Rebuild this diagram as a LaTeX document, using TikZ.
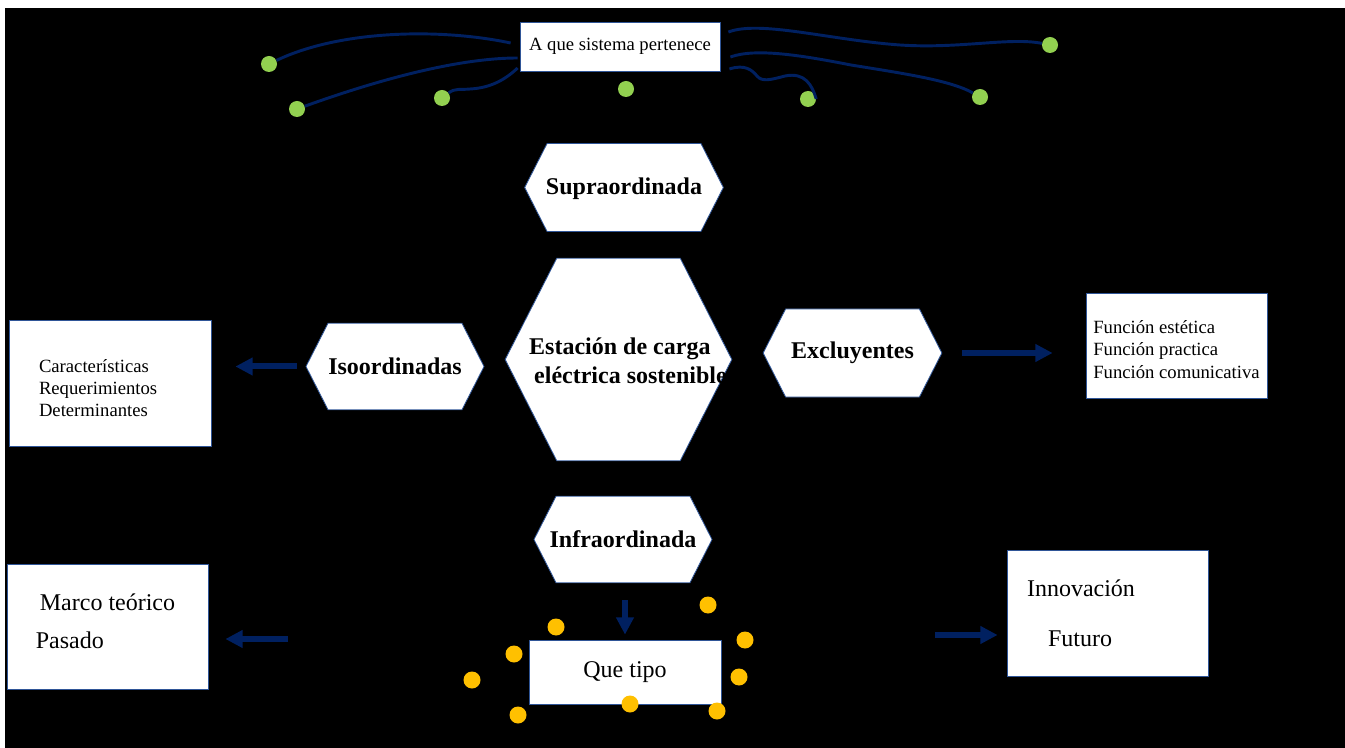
\documentclass[tikz,border=0pt]{standalone}
\usepackage{fontspec}
\setmainfont{Liberation Serif}
\usepackage{tikz}
\usetikzlibrary{arrows.meta,positioning,calc,shapes.symbols}

\definecolor{navy}{HTML}{002060}
\definecolor{edgeblue}{HTML}{2F5597}
\definecolor{dotgreen}{HTML}{92D050}
\definecolor{dotgold}{HTML}{FFC000}

\begin{document}
\begin{tikzpicture}[x=0.75pt, y=-0.75pt,
  hexa/.style={signal, signal to=east and west, signal pointer angle=126,
    draw=edgeblue, fill=white, line width=0.6pt, inner sep=0pt},
  hexlabel/.style={font=\fontsize{18}{21.6}\selectfont\bfseries, align=center, inner sep=0pt},
  card/.style={rectangle, draw=edgeblue, fill=white, line width=0.6pt, inner sep=0pt},
  big/.style={font=\fontsize{18}{21.6}\selectfont},
  mid/.style={font=\fontsize{14}{16.8}\selectfont},
  gdot/.style={circle, fill=dotgreen, inner sep=0pt, minimum size=12pt},
  ydot/.style={circle, fill=dotgold, inner sep=0pt, minimum size=12.75pt},
  link/.style={navy, line width=2.2pt},
  fat/.style={navy, line width=4.5pt, -{Triangle[width=12.75pt,length=13pt]}}]

  % Background
  \useasboundingbox (0,0) rectangle (1345,748);
  \fill[white] (0,0) rectangle (1345,748);
  \fill[black] (5,8) rectangle (1345,748);

  % Top box and green dots
  \node[card, mid, minimum width=150pt, minimum height=36.75pt] (sis) at (620,46.5) {A que sistema pertenece};
  \foreach \x/\y [count=\i] in {269/64, 297/109, 442/98, 626/89, 808/99, 980/97, 1050/45}
    \node[gdot] (g\i) at (\x,\y) {};

  % Curves from the top box
  \draw[link] ($(sis.west)+(-9,-3.5)$) .. controls (440,28) and (340,30) .. (g1);
  \draw[link] ($(sis.west)+(-2,11.5)$) .. controls (470,58) and (400,72) .. (g2);
  \draw[link] ($(sis.west)+(-2,21.5)$) .. controls (505,80) and (490,88) .. (470,89) .. controls (460,90) and (455,88) .. (g3);
  \draw[link] ($(sis.east)+(8,-14.5)$) .. controls (760,20) and (830,40) .. (900,45) .. controls (960,49) and (1010,37) .. (g7);
  \draw[link] ($(sis.east)+(10,10.5)$) .. controls (755,48) and (800,55) .. (851,65) .. controls (900,73) and (950,80) .. (g6);
  \draw[link] ($(sis.east)+(9,22.5)$) .. controls (745,64) and (752,70) .. (757,76) .. controls (762,82) and (770,80) .. (785,76) .. controls (805,72) and (812,85) .. (g5.east);

  % Hexagons
  \node[hexa, minimum width=149pt, minimum height=66pt] (supra) at (624,187.5) {};
  \node[hexa, minimum width=170pt, minimum height=152pt] (estacion) at (618.5,359.5) {};
  \node[hexa, minimum width=133.5pt, minimum height=65pt] (iso) at (395,366.5) {};
  \node[hexa, minimum width=134pt, minimum height=66pt] (exclu) at (852.5,353) {};
  \node[hexa, minimum width=133.5pt, minimum height=65pt] (infra) at (623,539.5) {};
  \node[hexlabel] (supraTxt) at ([yshift=-1pt]supra.center) {Supraordinada};
  \node[hexlabel, align=left] (estacionTxt) at (628,361) {Estación de carga\\\hspace*{3.75pt}eléctrica sostenible};
  \node[hexlabel] (isoTxt) at (iso) {Isoordinadas};
  \node[hexlabel] (excluTxt) at (exclu) {Excluyentes};
  \node[hexlabel] (infraTxt) at (infra) {Infraordinada};

  % Side boxes
  \node[card, mid, align=left, text width=106.5pt, inner xsep=22.5pt, minimum height=94.5pt] (rasgos) at (110,383) {\rule{0pt}{17.5pt}Características\\Requerimientos\\Determinantes};
  \node[card, mid, align=left, minimum width=135.75pt, minimum height=78.75pt] (funcion) at (1176.5,345.5) {\rule{0pt}{15.8pt}Función estética\\Función practica\\Función comunicativa};
  \node[card, big, align=left, minimum width=150.75pt, minimum height=93.75pt] (marco) at (107.5,626.5) {Marco teórico\\[7pt]\hspace*{-3pt}Pasado\rule[-8pt]{0pt}{8pt}};
  \node[card, big, align=left, text width=120.75pt, inner xsep=15pt, minimum height=94.5pt] (innova) at (1107.5,613) {Innovación\\[16pt]\hspace*{15.75pt}Futuro};
  \node[card, big, minimum width=144pt, minimum height=48pt] (tipo) at (625,672) {Que tipo};

  % Arrows
  \coordinate (pasadoIn) at (288,639);
  \coordinate (futuroIn) at (935,635);
  \draw[fat, shorten <=6.75pt, shorten >=18pt] (iso.west) -- (iso.west -| rasgos.east);
  \draw[fat, shorten <=15pt, shorten >=24.75pt] (exclu.east) -- (exclu.east -| funcion.west);
  \draw[fat, shorten >=12.75pt] (pasadoIn) -- (pasadoIn -| marco.east);
  \draw[fat, shorten >=6.75pt] (futuroIn) -- (futuroIn -| innova.west);
  \draw[fat, shorten <=12.75pt, shorten >=3.75pt] (tipo.north |- infra.south) -- (tipo.north);

  % Yellow dots round the lower box
  \foreach \x/\y [count=\i] in {556/627, 514/654, 472/680, 518/715, 630/704, 708/605, 745/640, 739/677, 717/711}
    \node[ydot] (o\i) at (\x,\y) {};
\end{tikzpicture}
\end{document}
